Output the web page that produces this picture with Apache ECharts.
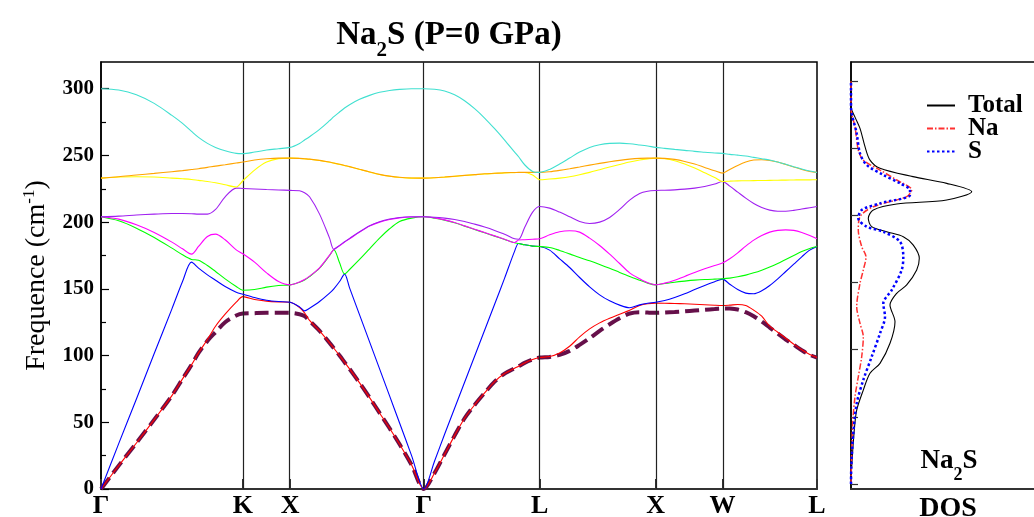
<!DOCTYPE html>
<html>
<head>
<meta charset="utf-8">
<script src="https://cdn.jsdelivr.net/npm/echarts@6/dist/echarts.min.js"></script>
<style>html,body{margin:0;padding:0;background:#fff}#c{width:1034px;height:517px}</style>
</head>
<body>
<div id="c"></div>
<script>
// ---------- data ----------
const kTicks = [0, 1.0607, 1.4142, 2.4142, 3.2802, 4.1463, 4.6463, 5.3534];
const kLabels = ['Γ', 'K', 'X', 'Γ', 'L', 'X', 'W', 'L'];
const yMajor = [0, 50, 100, 150, 200, 250, 300];
const yMinor = [25, 75, 125, 175, 225, 275];

const kPath = [0, 0.1324, 0.2648, 0.3979, 0.5303, 0.6096, 0.6769, 0.7293, 0.7958, 0.8564, 0.9282, 1.0112, 1.0607,
  1.1481, 1.2379, 1.3276, 1.4142,
  1.4845, 1.5219, 1.5593, 1.6341, 1.7089, 1.7410, 1.7837, 1.8211, 1.8585, 1.9333, 2.0081, 2.0829, 2.1577, 2.2325, 2.3222, 2.4142,
  2.4942, 2.5690, 2.6438, 2.7186, 2.7934, 2.8682, 2.9430, 3.0178, 3.0926, 3.1225, 3.1674, 3.2272, 3.2802,
  3.3542, 3.4290, 3.5038, 3.5786, 3.6534, 3.7282, 3.8030, 3.8778, 3.9526, 4.0274, 4.0872, 4.1463,
  4.2144, 4.2892, 4.3640, 4.4388, 4.5136, 4.5884, 4.6463,
  4.7009, 4.7607, 4.8205, 4.8804, 4.9402, 5.0001, 5.0599, 5.1197, 5.1796, 5.2394, 5.2992, 5.3534];

const band1 = [0, 17.5, 34.5, 52, 70, 82.5, 93, 102, 111, 117.5, 125, 130, 131.5,
  131.8, 132, 132, 132,
  131, 129.5, 126, 118.5, 109.5, 105.5, 100, 95, 90, 79.5, 68.5, 57, 45.5, 33.5, 18, 0,
  12, 26, 40, 53, 63, 72, 80.5, 86.5, 90.5, 92, 94.5, 97, 98.5,
  99, 100.5, 103.5, 108, 113, 118.5, 123.5, 128, 131.5, 132.5, 132.2, 132,
  132.2, 132.6, 133.1, 133.7, 134.3, 134.9, 135.3,
  135.2, 134.5, 132.5, 129.5, 125.5, 121, 116.5, 112, 108, 104, 100.5, 98.5];
const band2 = [0, 17.5, 34.5, 52, 70, 82.5, 93, 102, 112, 122, 131, 140, 144.2,
  142, 140.8, 140.2, 139.9,
  136, 132, 126.3, 118.5, 109.5, 105.5, 100, 95, 90, 79.5, 68.5, 57, 45.5, 33.5, 18, 0,
  12, 26, 40, 53, 63, 72, 80.5, 86.5, 90.5, 92, 94.5, 97, 98.5,
  99.3, 102, 107, 114, 120, 124.5, 128, 131, 134, 137.5, 138.8, 139.3,
  139.2, 139, 138.8, 138.5, 138.1, 137.7, 137.5,
  137.8, 138.3, 137.5, 134, 129.5, 122, 117.5, 113, 108.5, 104.3, 100.8, 98.5];
const band3 = [0, 34, 67.5, 101.5, 135, 155.5, 170, 165.5, 160.5, 156.5, 151.75, 147.5, 146,
  143.5, 141.5, 140.5, 140,
  136.5, 133.5, 135.5, 140.5, 146.75, 150, 155.5, 161, 150.75, 130.5, 110.25, 90, 69.75, 49.5, 25, 0,
  21, 41, 60.5, 80, 99.5, 119, 138.5, 158, 178.3, 184, 183, 182, 181.75,
  179, 172.5, 166, 158.5, 151.5, 145.5, 141, 137.8, 135.8, 138, 139.2, 140,
  141.3, 143.5, 146.3, 149.5, 152.5, 155.3, 157.3,
  153.5, 149.5, 146.8, 146.3, 148.5, 152.5, 157.5, 163, 168.5, 174, 179, 181.75];
const band4 = [204, 201, 195.5, 188.5, 180.5, 175.5, 172, 171.5, 167.5, 163, 157.5, 151.75, 149,
  149.5, 151.3, 152.5, 153,
  155, 156.7, 159.2, 165.5, 175, 179.3, 169.5, 161.2, 164.5, 172, 180, 188, 195, 200.5, 203, 204,
  203, 201.5, 199.5, 197, 194.5, 192, 189.5, 187, 184.5, 184, 183, 182, 181.75,
  181, 178.8, 176.2, 173.5, 171, 168.3, 165.4, 162.3, 159.3, 156.5, 154.3, 153,
  154, 155, 155.8, 156.5, 157, 157.3, 157.5,
  158, 159, 160.3, 162, 164, 166.3, 169, 172, 175, 178, 180.3, 181.75];
const band5 = [204, 202.25, 198, 192.25, 185, 180, 176, 181.75, 189.25, 191, 186.75, 179.25, 176.25,
  170, 162, 155.5, 153,
  155.2, 157, 159.5, 165.8, 175.3, 179.5, 182.3, 185, 187.5, 192.5, 197, 200, 202, 203.2, 203.8, 204,
  203.2, 201.7, 199.7, 197.2, 194.7, 192.2, 189.7, 187.2, 184.7, 186.6, 186.8, 187.2, 187.5,
  190.5, 192.8, 193.5, 192.5, 188, 182.5, 176, 169, 162, 157.5, 154.5, 153,
  154.3, 156.5, 159.3, 162.3, 165, 167.5, 169.3,
  172.5, 177, 182, 186.5, 190, 192.5, 193.8, 194.2, 193.8, 192.3, 190, 187.5];
const band6 = [204, 204.5, 205.3, 206, 206.5, 206.5, 206.3, 206, 206, 209.5, 219, 225.5, 225.2,
  224.8, 224.4, 224.1, 223.8,
  223.5, 222, 219, 206, 188, 179.7, 182.6, 185.3, 187.8, 192.8, 197.3, 200.3, 202.3, 203.5, 204, 204,
  203.7, 203, 202, 200.5, 198.5, 196.3, 193.8, 191, 187.5, 187.2, 196, 207.5, 211.75,
  210.5, 207.5, 204, 200.5, 199, 200, 203.5, 209.5, 216.5, 221.5, 223.2, 223.75,
  223.9, 224.2, 224.7, 225.5, 226.7, 228.5, 230.5,
  227, 222.5, 218, 214, 211, 209, 208.2, 208.2, 208.8, 209.8, 210.8, 211.75];
const band7 = [233, 233.8, 234, 233.8, 233, 232.5, 232, 231.3, 230.5, 229.5, 228, 226.3, 231,
  239, 245, 247.6, 248,
  247.7, 247.4, 247.1, 246.2, 244.9, 244.2, 243.3, 242.4, 241.5, 239.5, 237.5, 235.7, 234.4, 233.5, 233, 233,
  233.2, 233.7, 234.3, 234.9, 235.5, 236.1, 236.5, 236.9, 237.1, 237.2, 237.2, 235.3, 231.75,
  232.3, 233, 234, 235.5, 237.3, 239.3, 241.3, 243.2, 245, 246.5, 247.4, 248,
  247.5, 246, 243.5, 240.5, 237, 233.5, 230.5,
  230.7, 230.9, 231, 231.1, 231.2, 231.3, 231.4, 231.5, 231.6, 231.7, 231.7, 231.75];
const band8 = [233, 234, 235.3, 236.5, 237.8, 238.6, 239.4, 240, 241, 242, 243, 244.3, 245,
  246.5, 247.5, 248, 248,
  247.8, 247.5, 247.2, 246.3, 245, 244.3, 243.4, 242.5, 241.6, 239.6, 237.6, 235.8, 234.5, 233.6, 233.1, 233,
  233.3, 233.8, 234.4, 235, 235.6, 236.2, 236.6, 237, 237.2, 237.3, 237.3, 237.3, 237.25,
  237.8, 238.8, 240, 241.3, 242.7, 244, 245.2, 246.3, 247.2, 247.8, 248, 248,
  247.8, 247, 245.5, 243.5, 241, 238.5, 236.75,
  239.5, 242.5, 245, 246.5, 246.8, 246.2, 245, 243.2, 241.3, 239.5, 238, 237.25];
const band9 = [300, 299, 295.5, 289, 280, 274, 268, 263.5, 259, 256, 253.5, 251.5, 251.3,
  252.5, 254, 255, 256,
  259, 261.5, 264, 269.5, 276, 279, 282.5, 285.5, 288, 292, 295, 297.3, 298.7, 299.5, 300, 300,
  299.6, 298.3, 295.5, 291, 285, 278, 270, 261.5, 252.5, 249, 243, 238, 237.3,
  239.5, 243.5, 248, 252.5, 256, 258, 259, 259.2, 258.7, 257.8, 257, 256,
  255.3, 254.5, 253.8, 253, 252.4, 251.8, 251.5,
  250.8, 250.2, 249.5, 248.5, 247.5, 246.5, 245, 243.3, 241.5, 239.8, 238.3, 237.25];

// DOS (frequency, density in arbitrary units)
const totalFreq = [0, 12.9, 37.7, 55, 69.9, 82.4, 89.8, 104.7, 120.8, 133.2, 141.9, 148.1, 159.2, 167.9, 177.8, 184, 187.7, 191.5, 197.7, 203.9, 208.3, 211.3, 217.5, 223.7, 228.7, 234.9, 241, 251, 264.6, 273, 280.7, 300];
const totalDos  = [0, 0.07, 0.3, 0.57, 1.23, 1.9, 2.9, 3.9, 4.4, 3.9, 4.57, 5.57, 6.57, 6.83, 6.23, 5.23, 3.57, 2.07, 1.73, 2.23, 4.57, 9.57, 12.07, 9.57, 6.2, 2.9, 1.9, 1.4, 0.9, 0.4, 0, 0];
const naFreq = [0, 12.9, 45.2, 65, 79.8, 94.7, 109.6, 119.6, 131.9, 149.3, 159.2, 169.1, 176.6, 189, 198.9, 206.3, 213.8, 218.8, 226.2, 233.6, 241, 248.5, 265.9, 279, 300];
const naDos  = [0, 0.03, 0.17, 0.4, 0.73, 1.07, 1.23, 0.9, 0.57, 0.9, 1.23, 1.5, 1.07, 0.73, 0.9, 2.23, 5.57, 6.07, 4.57, 2.9, 1.23, 0.73, 0.4, 0, 0];
const sFreq = [0, 12.9, 37.7, 60, 77.4, 94.7, 112.1, 124.5, 134.4, 144.3, 159.2, 169.1, 180.3, 187.7, 191.5, 197.7, 203.9, 208.8, 215, 218.8, 223.7, 230, 237.4, 246, 260.9, 280.7, 300];
const sDos  = [0, 0.03, 0.23, 0.57, 1.23, 2.07, 2.9, 3.4, 3.23, 4.07, 5.07, 5.23, 4.9, 3.23, 1.57, 0.73, 1.07, 2.9, 5.9, 5.9, 4.9, 3.23, 1.57, 0.9, 0.57, 0, 0];

// ---------- styles ----------
const FONT = 'Liberation Serif';
const bands = [band1, band2, band3, band4, band5, band6, band7, band8, band9];
const bandColors = ['#66104a', '#ff0000', '#0000ff', '#00ff00', '#ff00ff', '#a020f0', '#ffff00', '#ffa500', '#40e0d0'];

const bandSeries = bands.map((b, i) => {
  const s = {
    name: 'band' + (i + 1),
    type: 'line',
    xAxisIndex: 0, yAxisIndex: 0,
    data: kPath.map((k, j) => [k, b[j]]),
    symbol: 'none', showSymbol: false,
    smooth: 0.3,
    lineStyle: { color: bandColors[i], width: i === 0 ? 4 : 1.1, type: i === 0 ? [14, 6] : 'solid' },
    itemStyle: { color: bandColors[i] },
    z: 3 + i
  };
  if (i === 0) {
    s.markLine = {
      silent: true, symbol: ['none', 'none'], label: { show: false },
      lineStyle: { color: '#222', width: 1.2, type: 'solid' },
      data: kTicks.slice(1, -1).map(v => ({ xAxis: v }))
    };
  }
  return s;
});

function dosSeries(name, f, d, color, width, type) {
  return {
    name, type: 'line', xAxisIndex: 1, yAxisIndex: 2,
    data: f.map((v, i) => [d[i], v]),
    symbol: 'none', showSymbol: false, smooth: 0.3,
    lineStyle: { color, width, type }, itemStyle: { color }
  };
}

const chart = echarts.init(document.getElementById('c'), null, { renderer: 'canvas' });
chart.setOption({
  animation: false,
  backgroundColor: '#ffffff',
  title: [
    {
      text: '{a|Na}{b|2}{a|S (P=0 GPa)}',
      left: 444, top: 14, textAlign: 'center',
      textStyle: { rich: {
        a: { fontFamily: FONT, fontWeight: 'bold', fontSize: 33, color: '#000', lineHeight: 33, verticalAlign: 'top' },
        b: { fontFamily: FONT, fontWeight: 'bold', fontSize: 21, color: '#000', lineHeight: 64, verticalAlign: 'middle' }
      } }
    },
    {
      text: '{a|Na}{b|2}{a|S}',
      left: 944, top: 443, textAlign: 'center',
      textStyle: { rich: {
        a: { fontFamily: FONT, fontWeight: 'bold', fontSize: 27, color: '#000', lineHeight: 27, verticalAlign: 'top' },
        b: { fontFamily: FONT, fontWeight: 'bold', fontSize: 18, color: '#000', lineHeight: 54, verticalAlign: 'middle' }
      } }
    }
  ],
  legend: {
    data: ['Total', 'Na', 'S'],
    orient: 'vertical', left: 926, top: 93, padding: 0,
    itemWidth: 28, itemHeight: 10, itemGap: -2,
    selectedMode: false,
    itemStyle: { opacity: 0 },
    textStyle: { fontFamily: FONT, fontWeight: 'bold', fontSize: 25, color: '#000', lineHeight: 22.5, padding: [0, 0, 0, 8] }
  },
  grid: [
    { left: 101, top: 62, width: 716, height: 427, outerBoundsMode: 'none', containLabel: false, show: true, borderColor: '#000', borderWidth: 1.5, backgroundColor: 'transparent' },
    { left: 851, top: 62, width: 194, height: 427, outerBoundsMode: 'none', containLabel: false, show: true, borderColor: '#000', borderWidth: 1.5, backgroundColor: 'transparent' }
  ],
  xAxis: [
    {
      gridIndex: 0, type: 'value', min: 0, max: 5.3534,
      axisLine: { show: true, onZero: false, lineStyle: { color: '#333', width: 2 } },
      axisTick: { show: true, inside: true, length: 10, customValues: kTicks, lineStyle: { color: '#333', width: 2 } },
      axisLabel: {
        show: true, customValues: kTicks, margin: 4,
        formatter: v => { const i = kTicks.findIndex(t => Math.abs(t - v) < 1e-3); return i >= 0 ? kLabels[i] : ''; },
        fontFamily: FONT, fontWeight: 'bold', fontSize: 26, color: '#000'
      },
      splitLine: { show: false }
    },
    {
      gridIndex: 1, type: 'value', min: 0, max: 19.4,
      axisLine: { show: true, onZero: false, lineStyle: { color: '#333', width: 2 } },
      axisTick: { show: false }, axisLabel: { show: false }, splitLine: { show: false },
      name: 'DOS', nameLocation: 'middle', nameGap: 6,
      nameTextStyle: { fontFamily: FONT, fontWeight: 'bold', fontSize: 28, color: '#000', verticalAlign: 'top' }
    }
  ],
  yAxis: [
    {
      gridIndex: 0, type: 'value', min: 0, max: 320,
      axisLine: { show: true, onZero: false, lineStyle: { color: '#000', width: 1.5 } },
      axisTick: { show: true, inside: true, length: 8, customValues: yMajor, lineStyle: { color: '#000', width: 1.2 } },
      axisLabel: { show: true, customValues: yMajor, margin: 7, fontFamily: FONT, fontWeight: 'bold', fontSize: 21, color: '#000' },
      splitLine: { show: false },
      name: '{a|Frequence (cm}{s|-1}{a|)}',
      nameLocation: 'middle', nameGap: 50, nameRotate: 90,
      nameTextStyle: { rich: {
        a: { fontFamily: FONT, fontSize: 28, color: '#000', lineHeight: 30, verticalAlign: 'bottom' },
        s: { fontFamily: FONT, fontSize: 17, color: '#000', lineHeight: 17, verticalAlign: 'top' }
      } }
    },
    {
      gridIndex: 0, type: 'value', min: 0, max: 320, position: 'left',
      axisLine: { show: false, onZero: false },
      axisTick: { show: true, inside: true, length: 5, customValues: yMinor, lineStyle: { color: '#000', width: 1.2 } },
      axisLabel: { show: false }, splitLine: { show: false }
    },
    {
      gridIndex: 1, type: 'value', min: -3.7, max: 314,
      axisLine: { show: true, onZero: false, lineStyle: { color: '#000', width: 1.5 } },
      axisTick: { show: true, inside: true, length: 7, customValues: yMajor, lineStyle: { color: '#333', width: 1.2 } },
      axisLabel: { show: false }, splitLine: { show: false }
    }
  ],
  series: bandSeries.concat([
    dosSeries('Total', totalFreq, totalDos, '#000000', 1.1, 'solid'),
    dosSeries('Na', naFreq, naDos, '#ff3030', 1.5, [6, 2, 1.5, 2]),
    dosSeries('S', sFreq, sDos, '#0000ff', 2.5, [2.5, 2.5])
  ])
});
</script>
</body>
</html>
